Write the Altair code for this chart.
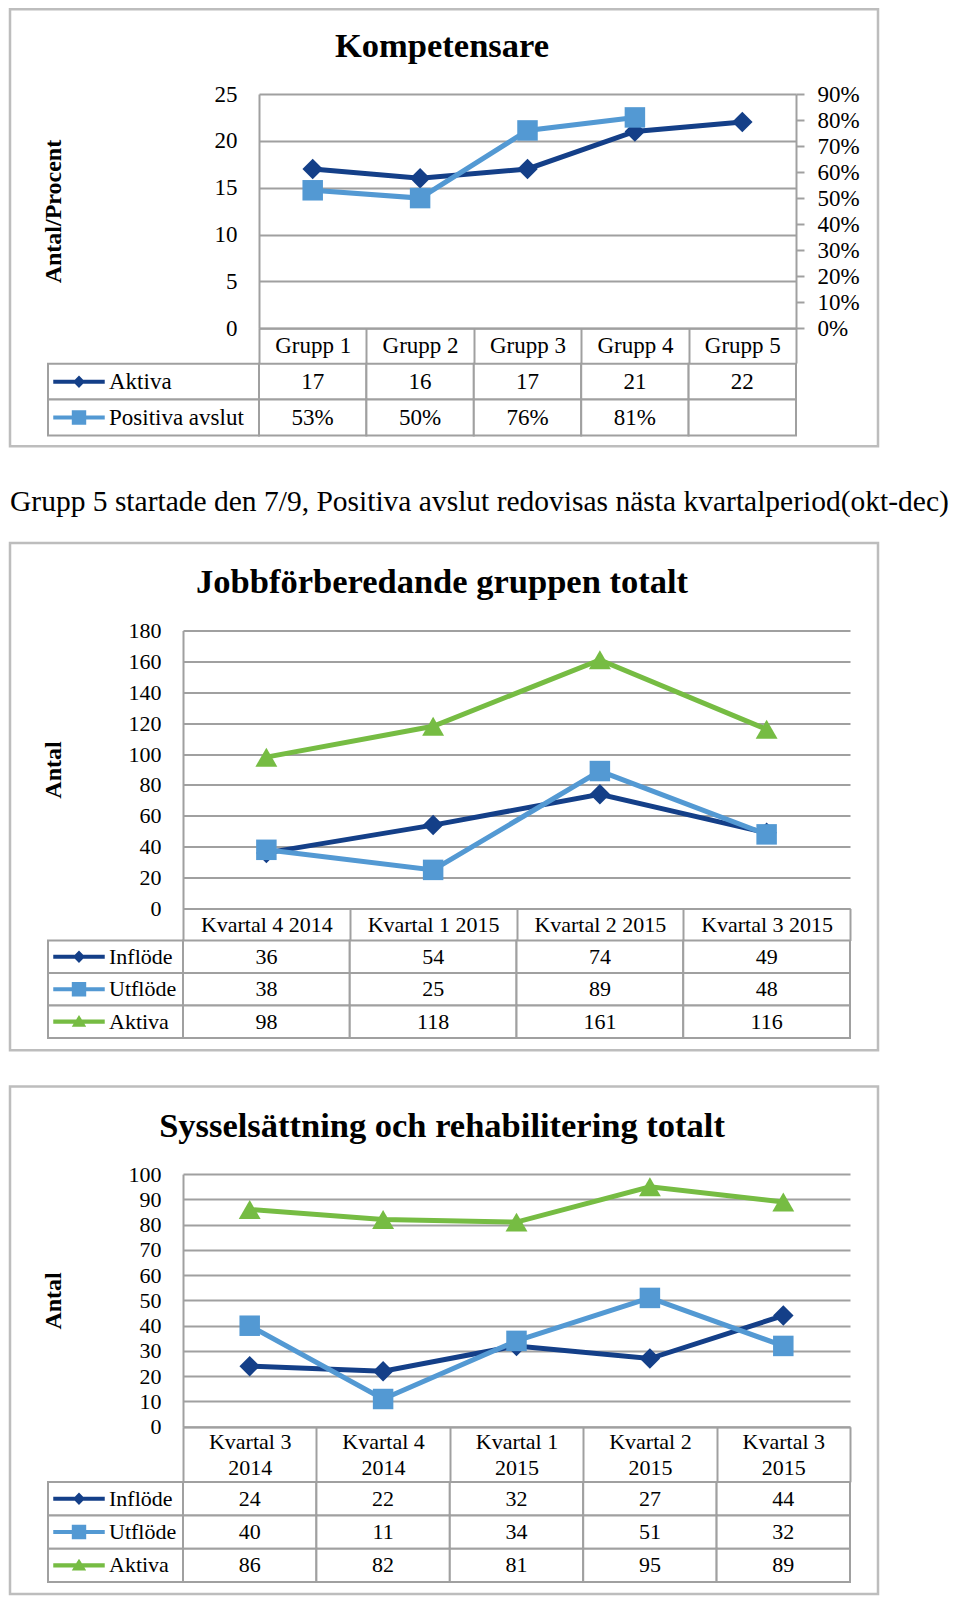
import altair as alt
import pandas as pd

FONT = "Liberation Serif"
GRID = "#A0A0A0"
FRAME = "#BDBDBD"
DARK = "#143F88"
LIGHT = "#5399D3"
GREEN = "#76BC43"

# ---------------- data ----------------
k_title = "Kompetensare"
k_groups = ["Grupp 1", "Grupp 2", "Grupp 3", "Grupp 4", "Grupp 5"]
k_series = ["Aktiva", "Positiva avslut"]
k_aktiva = [17, 16, 17, 21, 22]
k_positiva = [0.53, 0.50, 0.76, 0.81, None]
k_left_ticks = [0, 5, 10, 15, 20, 25]
k_right_ticks = [0.0, 0.1, 0.2, 0.3, 0.4, 0.5, 0.6, 0.7, 0.8, 0.9]

note_text = "Grupp 5 startade den 7/9, Positiva avslut redovisas nästa kvartalperiod(okt-dec)"

j_title = "Jobbförberedande gruppen totalt"
j_quarters = ["Kvartal 4 2014", "Kvartal 1 2015", "Kvartal 2 2015", "Kvartal 3 2015"]
j_series = ["Inflöde", "Utflöde", "Aktiva"]
j_inflode = [36, 54, 74, 49]
j_utflode = [38, 25, 89, 48]
j_aktiva = [98, 118, 161, 116]
j_ticks = [0, 20, 40, 60, 80, 100, 120, 140, 160, 180]

s_title = "Sysselsättning och rehabilitering totalt"
s_quarters = ["Kvartal 3 2014", "Kvartal 4 2014", "Kvartal 1 2015", "Kvartal 2 2015", "Kvartal 3 2015"]
s_series = ["Inflöde", "Utflöde", "Aktiva"]
s_inflode = [24, 22, 32, 27, 44]
s_utflode = [40, 11, 34, 51, 32]
s_aktiva = [86, 82, 81, 95, 89]
s_ticks = [0, 10, 20, 30, 40, 50, 60, 70, 80, 90, 100]

# legend-key symbols (line + marker), unit coordinates
ICON_DIAMOND = "M-1,-0.08L-0.16,-0.08L0,-0.24L0.16,-0.08L1,-0.08L1,0.08L0.16,0.08L0,0.24L-0.16,0.08L-1,0.08Z"
ICON_SQUARE = "M-1,-0.08L-0.28,-0.08L-0.28,-0.28L0.28,-0.28L0.28,-0.08L1,-0.08L1,0.08L0.28,0.08L0.28,0.28L-0.28,0.28L-0.28,0.08L-1,0.08Z"
ICON_TRIANGLE = "M-1,-0.08L-0.11,-0.08L0,-0.26L0.11,-0.08L1,-0.08L1,0.08L0.21,0.08L0.28,0.2L-0.28,0.2L-0.21,0.08L-1,0.08Z"


def band(domain):
    return alt.Scale(type="band", domain=domain, paddingInner=0, paddingOuter=0)


def long_df(cats, names, values):
    rows = []
    for n, vals in zip(names, values):
        for c, v in zip(cats, vals):
            rows.append({"cat": c, "series": n, "value": v})
    return pd.DataFrame(rows)


def x_axis(fs, header_h, multiline=False):
    pad = -header_h / 2
    kw = dict(title=None, orient="bottom", domain=True, domainColor=GRID, domainWidth=2,
              ticks=True, tickBand="extent", tickSize=header_h, tickColor=GRID, tickWidth=2,
              labelFont=FONT, labelFontSize=fs, labelColor="black", labelAngle=0,
              labelBaseline="middle", labelOverlap=False, labelLimit=0, grid=False)
    if multiline:
        kw["labelExpr"] = "[slice(datum.label, 0, 9), slice(datum.label, 10)]"
        kw["labelLineHeight"] = 25.5
        pad -= 12.75
    kw["labelPadding"] = pad
    return alt.Axis(**kw)


def y_axis_left(fs, values, title, title_x, H):
    return alt.Axis(title=title, titleFont=FONT, titleFontSize=24, titleFontWeight="bold",
                    titleColor="black", titleAngle=270, titleAlign="center",
                    titleBaseline="middle", titleX=title_x, titleY=H / 2,
                    values=values, format="d", labelFont=FONT, labelFontSize=fs,
                    labelColor="black", labelPadding=22, ticks=False, domain=True,
                    domainColor=GRID, domainWidth=2, grid=True, gridColor=GRID,
                    gridWidth=2, labelOverlap=False)


def series_layers(df, cats, name, color, shape, size, xax, y):
    base = (alt.Chart(df)
            .transform_filter(alt.datum.series == name)
            .transform_filter("isValid(datum.value)"))
    enc = dict(x=alt.X("cat:N", scale=band(cats), axis=xax), y=y)
    return [base.mark_line(color=color, strokeWidth=5).encode(**enc),
            base.mark_point(shape=shape, filled=True, color=color, size=size,
                            opacity=1).encode(**enc)]


def plot_title(text, dx):
    return alt.TitleParams(text, font=FONT, fontSize=34.5, fontWeight="bold", color="black",
                           anchor="middle", frame="group", dx=dx, offset=-8,
                           baseline="alphabetic")


def label_chart(names, colors, icons, L, T, fs):
    df = pd.DataFrame({"series": names})
    y = alt.Y("series:N", scale=band(names), axis=None)
    layers = [alt.Chart(df).mark_rect(fill="white", stroke=GRID, strokeWidth=2).encode(y=y)]
    for n, c, ic in zip(names, colors, icons):
        layers.append(alt.Chart(df).transform_filter(alt.datum.series == n)
                      .mark_point(shape=ic, filled=True, color=c, opacity=1, size=2650)
                      .encode(y=y, x=alt.value(31)))
    layers.append(alt.Chart(df).mark_text(font=FONT, fontSize=fs, align="left",
                                          baseline="middle", color="black")
                  .encode(y=y, x=alt.value(61), text="series:N"))
    return alt.layer(*layers).properties(width=L, height=T)


def table_chart(cats, names, texts, W, T, fs):
    rows = []
    for n, labs in zip(names, texts):
        for c, t in zip(cats, labs):
            rows.append({"cat": c, "series": n, "text": t})
    df = pd.DataFrame(rows)
    x = alt.X("cat:N", scale=band(cats), axis=None)
    y = alt.Y("series:N", scale=band(names), axis=None)
    cells = alt.Chart(df).mark_rect(fill="white", stroke=GRID, strokeWidth=2).encode(x=x, y=y)
    txt = alt.Chart(df).mark_text(font=FONT, fontSize=fs, color="black",
                                  baseline="middle").encode(x=x, y=y, text="text:N")
    return alt.layer(cells, txt).properties(width=W, height=T)


def frame_cell(L, H, y0, y1):
    return (alt.Chart(pd.DataFrame({"k": [0]}))
            .mark_rect(fill="transparent", stroke=FRAME, strokeWidth=2.5)
            .encode(x=alt.value(-38), x2=alt.value(830), y=alt.value(y0), y2=alt.value(y1))
            .properties(width=L, height=H))


def section(frame, plot, labels, table, header_h):
    return alt.concat(frame, plot, labels, table, columns=2,
                      spacing={"row": header_h, "column": 0}, bounds="flush")


# ---------------- section 1 ----------------
L1, W1, H1, HD1, T1, FS1 = 211, 537, 234.2, 34.8, 71.6, 23
df1 = long_df(k_groups, k_series, [k_aktiva, k_positiva])
xax1 = x_axis(FS1, HD1)
yl1 = alt.Y("value:Q", scale=alt.Scale(domain=[0, 25], nice=False, zero=True),
            axis=y_axis_left(FS1, k_left_ticks, "Antal/Procent", -206, H1))
yr1 = alt.Y("value:Q", scale=alt.Scale(domain=[0, 0.9], nice=False, zero=True),
            axis=alt.Axis(orient="right", title=None, values=k_right_ticks, format=".0%",
                          ticks=True, tickSize=8, tickColor=GRID, tickWidth=2,
                          labelPadding=13, labelFont=FONT, labelFontSize=FS1,
                          labelColor="black", domain=True, domainColor=GRID,
                          domainWidth=2, grid=False, labelOverlap=False))
left1 = alt.layer(*series_layers(df1, k_groups, "Aktiva", DARK, "diamond", 420, xax1, yl1))
right1 = alt.layer(*series_layers(df1, k_groups, "Positiva avslut", LIGHT, "square", 420, xax1, yr1))
plot1 = (alt.layer(left1, right1).resolve_scale(y="independent")
         .properties(width=W1, height=H1, title=plot_title(k_title, -85.5)))
texts1 = [[str(v) for v in k_aktiva],
          [("%d%%" % round(v * 100)) if v is not None else "" for v in k_positiva]]
sec1 = section(frame_cell(L1, H1, -84.7, 352.3), plot1,
               label_chart(k_series, [DARK, LIGHT], [ICON_DIAMOND, ICON_SQUARE], L1, T1, FS1),
               table_chart(k_groups, k_series, texts1, W1, T1, FS1), HD1)

# ---------------- note ----------------
note = (alt.Chart(pd.DataFrame({"t": [note_text]}))
        .mark_text(font=FONT, fontSize=29.5, align="left", baseline="middle", color="black")
        .encode(text="t:N", x=alt.value(-38), y=alt.value(28.75))
        .properties(width=800, height=38.4))


# ---------------- sections 2 & 3 ----------------
def three_series_section(title, cats, names, vals, ticks, ymax, H, HD, T, multiline, fy0, fy1):
    L, W, FS = 135, 667, 22
    df = long_df(cats, names, vals)
    xax = x_axis(FS, HD, multiline)
    y = alt.Y("value:Q", scale=alt.Scale(domain=[0, ymax], nice=False, zero=True),
              axis=y_axis_left(FS, ticks, "Antal", -130, H))
    colors = [DARK, LIGHT, GREEN]
    shapes = ["diamond", "square", "triangle-up"]
    sizes = [420, 420, 480]
    layers = []
    for n, c, sh, sz in zip(names, colors, shapes, sizes):
        layers += series_layers(df, cats, n, c, sh, sz, xax, y)
    plot = alt.layer(*layers).properties(width=W, height=H, title=plot_title(title, -74.5))
    texts = [[str(v) for v in vs] for vs in vals]
    return section(frame_cell(L, H, fy0, fy1), plot,
                   label_chart(names, colors, [ICON_DIAMOND, ICON_SQUARE, ICON_TRIANGLE], L, T, FS),
                   table_chart(cats, names, texts, W, T, FS), HD)


sec2 = three_series_section(j_title, j_quarters, j_series, [j_inflode, j_utflode, j_aktiva],
                            j_ticks, 180, 278, 32, 97.4, False, -87.6, 419.7)
sec3 = three_series_section(s_title, s_quarters, s_series, [s_inflode, s_utflode, s_aktiva],
                            s_ticks, 100, 252.7, 55, 99.9, True, -87.7, 419.8)

sec23 = alt.vconcat(sec2, sec3, spacing=33.6)

chart = (alt.vconcat(sec1, note, sec23, spacing=24.75)
         .properties(padding=0)
         .configure_view(strokeWidth=0)
         .configure_text(font=FONT))

chart.save("out.html", embed_options={"renderer": "svg", "actions": False})
